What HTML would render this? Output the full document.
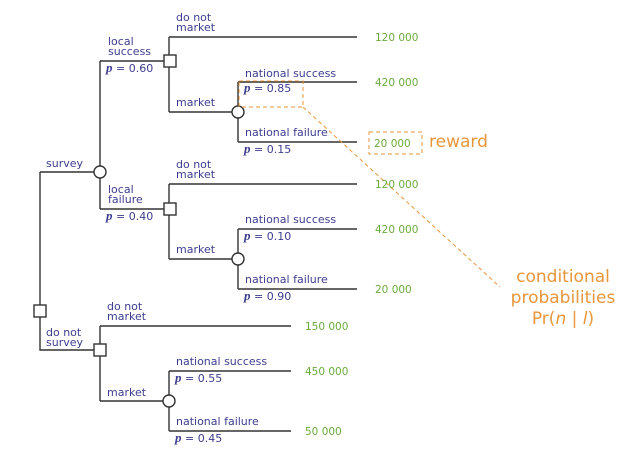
<!DOCTYPE html>
<html><head><meta charset="utf-8"><style>
html,body{margin:0;padding:0;background:#fff;}
svg{display:block;}
.l{font-family:"DejaVu Sans","Liberation Sans",sans-serif;font-size:11px;fill:#3d3d8f;}
.p{font-family:"DejaVu Sans","Liberation Sans",sans-serif;font-size:11px;fill:#3d3d8f;}
.g{font-family:"DejaVu Sans","Liberation Sans",sans-serif;font-size:10.5px;fill:#6aab3c;}
.o{font-family:"DejaVu Sans","Liberation Sans",sans-serif;font-size:17px;fill:#e8963a;}
</style></head><body>
<svg width="640" height="457" viewBox="0 0 640 457" xmlns="http://www.w3.org/2000/svg">
<g stroke="#333" stroke-width="1.4" fill="none">
<path d="M40,172 V350 H100"/>
<path d="M40,172 H100"/>
<path d="M100,61 V209"/>
<path d="M100,61 H170 M100,209 H170"/>
<path d="M169,37 V112 M169,37 H357 M169,112 H238 M238,82 V142 M238,82 H357 M238,142 H357"/>
<path d="M169,184 V259 M169,184 H357 M169,259 H238 M238,229 V289 M238,229 H357 M238,289 H357"/>
<path d="M100,326 V401 M100,326 H291 M100,401 H169 M169,371 V431 M169,371 H291 M169,431 H291"/>
</g>
<g stroke="#333" stroke-width="1.4" fill="#fff">
<rect x="34" y="305" width="12" height="12"/>
<circle cx="100" cy="172" r="6"/>
<rect x="164" y="55" width="12" height="12"/>
<rect x="164" y="203" width="12" height="12"/>
<rect x="94" y="344" width="12" height="12"/>
<circle cx="238" cy="112" r="6"/>
<circle cx="238" cy="259" r="6"/>
<circle cx="169" cy="401" r="6"/>
</g>
<g stroke="#e8963a" stroke-width="1" fill="none" stroke-dasharray="4,3">
<rect x="239" y="81" width="64" height="26"/>
<rect x="369" y="132" width="53" height="22"/>
<path d="M303,107 L500,287"/>
</g>
<g class="l">
<text x="46" y="167">survey</text>
<text x="108" y="45">local</text><text x="108" y="55">success</text>
<text x="176" y="21">do not</text><text x="176" y="31">market</text>
<text x="176" y="106">market</text>
<text x="245" y="77">national success</text>
<text x="245" y="136">national failure</text>
<text x="108" y="193">local</text><text x="108" y="203">failure</text>
<text x="176" y="168">do not</text><text x="176" y="178">market</text>
<text x="176" y="253">market</text>
<text x="245" y="223">national success</text>
<text x="245" y="283">national failure</text>
<text x="46" y="336">do not</text><text x="46" y="346">survey</text>
<text x="107" y="310">do not</text><text x="107" y="320">market</text>
<text x="107" y="396">market</text>
<text x="176" y="365">national success</text>
<text x="176" y="425">national failure</text>
</g>
<g class="p">
<text x="106" y="72"><tspan font-family="Liberation Serif,serif" font-style="italic" font-weight="bold" font-size="13">p</tspan> = 0.60</text>
<text x="244" y="92"><tspan font-family="Liberation Serif,serif" font-style="italic" font-weight="bold" font-size="13">p</tspan> = 0.85</text>
<text x="244" y="153"><tspan font-family="Liberation Serif,serif" font-style="italic" font-weight="bold" font-size="13">p</tspan> = 0.15</text>
<text x="106" y="220"><tspan font-family="Liberation Serif,serif" font-style="italic" font-weight="bold" font-size="13">p</tspan> = 0.40</text>
<text x="244" y="240"><tspan font-family="Liberation Serif,serif" font-style="italic" font-weight="bold" font-size="13">p</tspan> = 0.10</text>
<text x="244" y="300"><tspan font-family="Liberation Serif,serif" font-style="italic" font-weight="bold" font-size="13">p</tspan> = 0.90</text>
<text x="175" y="382"><tspan font-family="Liberation Serif,serif" font-style="italic" font-weight="bold" font-size="13">p</tspan> = 0.55</text>
<text x="175" y="442"><tspan font-family="Liberation Serif,serif" font-style="italic" font-weight="bold" font-size="13">p</tspan> = 0.45</text>
</g>
<g class="g">
<text x="375" y="41">120 000</text>
<text x="375" y="86">420 000</text>
<text x="374" y="147">20 000</text>
<text x="375" y="188">120 000</text>
<text x="375" y="233">420 000</text>
<text x="375" y="293">20 000</text>
<text x="305" y="330">150 000</text>
<text x="305" y="375">450 000</text>
<text x="305" y="435">50 000</text>
</g>
<text class="o" x="429" y="147">reward</text>
<g class="o" text-anchor="middle">
<text x="563" y="282">conditional</text>
<text x="563" y="303">probabilities</text>
<text x="563" y="324">Pr(<tspan font-style="italic">n</tspan> | <tspan font-style="italic">l</tspan>)</text>
</g>
</svg>
</body></html>
